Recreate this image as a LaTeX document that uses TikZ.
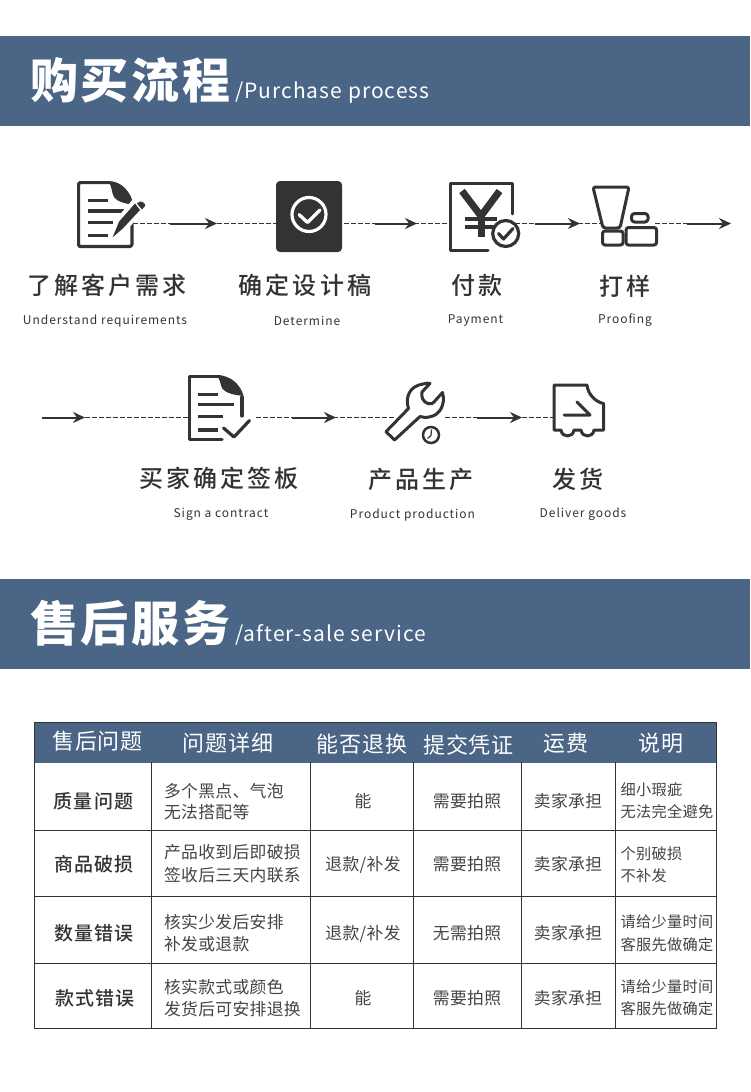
\documentclass[tikz,border=0pt]{standalone}
\usepackage{fontspec}
\usetikzlibrary{arrows.meta}
\setmainfont{Noto Sans CJK SC}
\newfontfamily\fttl[LetterSpace=6]{Noto Sans CJK SC Black}
\newfontfamily\fsub[LetterSpace=5]{Noto Sans CJK SC}
\newfontfamily\fstep[LetterSpace=13]{Noto Sans CJK SC Medium}
\newfontfamily\feng[LetterSpace=8]{Noto Sans CJK SC}
\newfontfamily\fhead[LetterSpace=4]{Noto Sans CJK SC}
\newfontfamily\frow[LetterSpace=6]{Noto Sans CJK SC Medium}
\newfontfamily\fcell[LetterSpace=2]{Noto Sans CJK SC}
\definecolor{band}{HTML}{4A6585}
\definecolor{ink}{HTML}{333333}
\definecolor{cellink}{HTML}{444444}
\tikzset{
  lab/.style={inner sep=0pt,outer sep=0pt,anchor=center,text=ink},
  ttl/.style={lab,anchor=west,text=white,font=\fttl\fontsize{48}{48}\selectfont,text height=41pt,text depth=6pt},
  sub/.style={lab,anchor=west,text=white,font=\fsub\fontsize{21}{21}\selectfont,text height=18pt,text depth=2.5pt},
  stepzh/.style={lab,font=\fstep\fontsize{24}{24}\selectfont,text height=21pt,text depth=3pt},
  stepen/.style={lab,font=\feng\fontsize{12}{12}\selectfont,text height=10.5pt,text depth=1.5pt},
  headc/.style={lab,text=white,font=\fhead\fontsize{22}{22}\selectfont,text height=19pt,text depth=3pt},
  rowc/.style={lab,font=\frow\fontsize{19}{19}\selectfont,text height=16.5pt,text depth=2.5pt},
  cellc/.style={lab,text=cellink,font=\fcell\fontsize{16.8}{17}\selectfont,text height=14.6pt,text depth=2.2pt},
  celll/.style={cellc,anchor=west},
  notel/.style={lab,anchor=west,text=cellink,font=\fcell\fontsize{15.2}{16}\selectfont,text height=13.2pt,text depth=2pt},
  dashlink/.style={draw=ink,line width=1pt,dash pattern=on 4.5pt off 2.5pt},
  solidlink/.style={draw=ink,line width=2pt,-{Stealth[length=12pt,width=11pt,inset=4pt]}},
  ic/.style={draw=ink,line width=3.2pt,line cap=round,line join=round},
  icf/.style={fill=ink,draw=none},
  grid/.style={draw=ink,line width=1.1pt}
}
\begin{document}
\begin{tikzpicture}[x=1pt,y=-1pt]
\useasboundingbox (0,0) rectangle (750,1092);
\fill[white] (0,0) rectangle (750,1092);
% banners
\fill[band] (0,36) rectangle (750,126);
\fill[band] (0,579) rectangle (750,669);
\node[ttl] (t1) at (30,81) {购买流程};
\node[sub] (s1) at (235,91) {/Purchase process};
\node[ttl] (t2) at (30,624) {售后服务};
\node[sub] (s2) at (235,634) {/after-sale service};
% link coordinates
\coordinate (a1) at (133,223.5); \coordinate (b1) at (170,223.5); \coordinate (c1) at (217,223.5); \coordinate (d1) at (276,223.5);
\coordinate (a2) at (344,223.5); \coordinate (b2) at (375,223.5); \coordinate (c2) at (417,223.5); \coordinate (d2) at (449,223.5);
\coordinate (a3) at (515,223.5); \coordinate (b3) at (535,223.5); \coordinate (c3) at (580,223.5); \coordinate (d3) at (602,223.5);
\coordinate (a4) at (655,223.5); \coordinate (b4) at (687,223.5); \coordinate (c4) at (731,223.5);
\coordinate (b5) at (42,417.5); \coordinate (c5) at (85,417.5); \coordinate (d5) at (188,417.5);
\coordinate (a6) at (256,417.5); \coordinate (b6) at (292,417.5); \coordinate (c6) at (336,417.5); \coordinate (d6) at (395,417.5);
\coordinate (a7) at (445,417.5); \coordinate (b7) at (477,417.5); \coordinate (c7) at (522,417.5); \coordinate (d7) at (553,417.5);
\foreach \p/\q in {a1/d1,a2/d2,a3/d3,a4/b4,c5/d5,a6/d6,a7/d7}{\path[dashlink] (\p) -- (\q);}
\foreach \p/\q in {b1/c1,b2/c2,b3/c3,b4/c4,b5/c5,b6/c6,b7/c7}{\path[solidlink] (\p) -- (\q);}
% icon 1: document and pen
\fill[white] (78,182) rectangle (133,247);
\draw[ic] (110,182.6) -- (80,182.6) to[out=180,in=90] (78.6,184) -- (78.6,244) to[out=-90,in=180] (80,246.4) -- (130,246.4) to[out=0,in=-90] (132,244) -- (132,205);
\fill[ink] (108,181) .. controls (122,181) and (131,192) .. (134,206) .. controls (128,203) and (118,203) .. (114,197) .. controls (111,192) and (113,188) .. (108,181) -- cycle;
\foreach \x/\y in {108/200.8,124/211,113/222.5,108/235.5}{\draw[ink,line width=3.2pt] (88,\y) -- (\x,\y);}
\fill[white] (108,241) -- (116,219) -- (134,198) -- (145,210) -- (125,232) -- cycle;
\fill[ink] (112.7,237.3) -- (119,221.7) -- (135,203.5) -- (140,210) -- (123,228.3) -- cycle;
\fill[ink] (137,203.5) -- (140,201.5) .. controls (143,201.5) and (146,204) .. (145,206) -- (142,209.5) -- cycle;
% icon 2: check box
\fill[ink,rounded corners=4pt] (276,181) rectangle (342,252);
\draw[white,line width=3.2pt] (309,214.5) circle (17);
\draw[white,line width=3.4pt,line cap=round,line join=round] (299,214.5) -- (307.5,222.5) -- (320,210);
% icon 3: yen
\draw[ic,line width=3pt] (512,214) -- (512,183) -- (450,183) -- (450,250) -- (488,250);
\draw[ink,line width=7pt] (462,191) -- (481,216) -- (499.5,191);
\draw[ink,line width=7pt] (481,214) -- (481,237);
\draw[ink,line width=4pt] (465,218.5) -- (497,218.5) (465,227) -- (497,227);
\draw[ink,line width=3.2pt,fill=white] (505.7,233.5) circle (13);
\draw[ink,line width=3.2pt,line cap=round,line join=round] (498.5,233.5) -- (503.5,239) -- (513,228.5);
% icon 4: sample bottles
\draw[ic,line width=3pt,rounded corners=2.5pt] (593,187) -- (629,187) -- (620,228) -- (603,228) -- cycle;
\draw[ic,line width=3pt,rounded corners=2.5pt] (602.5,231) rectangle (623,245);
\draw[ic,line width=3pt,rounded corners=2.5pt] (626,227.5) rectangle (656.5,245);
\draw[ic,line width=3pt,rounded corners=3pt] (631.5,213.5) rectangle (648,222);
% icon 5: document with check
\draw[ic] (220,376.5) -- (189.5,376.5) -- (189.5,439.5) -- (222,439.5);
\draw[ic] (242,397) -- (242,416);
\fill[ink] (216,375) .. controls (232,375) and (241,386) .. (243.5,396) .. controls (236,395) and (226,394) .. (222,388) .. controls (220,384) and (221,380) .. (216,375) -- cycle;
\foreach \x/\y in {218/394.3,234/404.5,223/416.5,218/430}{\draw[ink,line width=3.2pt] (198,\y) -- (\x,\y);}
\draw[ic] (223.5,428) -- (234,437) -- (249.5,420.5);
% icon 6: wrench and clock
\draw[ic,line width=3pt] (386,431.7) -- (408.5,408.5) .. controls (405,398) and (409,386) .. (423,384) .. controls (427,383) and (429,383) .. (430,383.5) -- (422,392) .. controls (421,397) and (423,402) .. (428,403.5) .. controls (431,404) and (433,404) .. (434,402) -- (442.5,392.5) .. controls (446,405) and (439,415) .. (431,416.5) .. controls (426,418) and (423,417.5) .. (420,416.5) -- (394.5,440) -- cycle;
\draw[ink,line width=2.5pt] (431,435) circle (8);
\draw[ink,line width=1.2pt] (431.5,429.5) -- (431,435.5) -- (427.5,438.5);
% icon 7: delivery
\draw[ic,line width=3pt] (554,385) -- (587,385) .. controls (588,395) and (596,402) .. (603.5,403.5) -- (603.5,430) -- (594,430) .. controls (593,438) and (582,438) .. (581,430) -- (574,430) .. controls (573,438) and (562,438) .. (561,430) -- (554,430) -- cycle;
\draw[ic,line width=3pt] (564,415) -- (590,415) -- (577,402);
% step labels
\node[stepzh] (z1) at (107,285) {了解客户需求};
\node[stepen] (e1) at (105,319.5) {Understand requirements};
\node[stepzh] (z2) at (305,285) {确定设计稿};
\node[stepen] (e2) at (307,320.5) {Determine};
\node[stepzh] (z3) at (477,285) {付款};
\node[stepen] (e3) at (475.5,318.5) {Payment};
\node[stepzh] (z4) at (625,286) {打样};
\node[stepen] (e4) at (625,318.5) {Proofing};
\node[stepzh] (z5) at (219,478) {买家确定签板};
\node[stepen] (e5) at (221,512.7) {Sign a contract};
\node[stepzh] (z6) at (421,479) {产品生产};
\node[stepen] (e6) at (412.5,513.5) {Product production};
\node[stepzh] (z7) at (578,479) {发货};
\node[stepen] (e7) at (583,512.5) {Deliver goods};
% table
\fill[band] (34.5,722.5) rectangle (716.5,762.5);
\draw[grid] (34.5,722.5) rectangle (716.5,1028.5);
\foreach \y in {830.5,896.5,963.5}{\draw[grid] (34.5,\y) -- (716.5,\y);}
\foreach \x in {151.5,310.5,413.5,521.5,615.5}{\draw[grid] (\x,762) -- (\x,1028.5);}
\node[headc] (h1) at (97.5,741) {售后问题};
\node[headc] (h2) at (228,743) {问题详细};
\node[headc] (h3) at (362,744.5) {能否退换};
\node[headc] (h4) at (468.5,745) {提交凭证};
\node[headc] (h5) at (566,743) {运费};
\node[headc] (h6) at (661,743) {说明};
\node[rowc] (r1) at (93.5,801) {质量问题};
\node[rowc] (r2) at (94,864.3) {商品破损};
\node[rowc] (r3) at (94,933.3) {数量错误};
\node[rowc] (r4) at (95,998.3) {款式错误};
\node[celll] (c21a) at (164,791) {多个黑点、气泡};
\node[celll] (c21b) at (164,812.7) {无法搭配等};
\node[celll] (c22a) at (164,852.3) {产品收到后即破损};
\node[celll] (c22b) at (164,875) {签收后三天内联系};
\node[celll] (c23a) at (164,922) {核实少发后安排};
\node[celll] (c23b) at (164,944.3) {补发或退款};
\node[celll] (c24a) at (164,987.7) {核实款式或颜色};
\node[celll] (c24b) at (164,1009.3) {发货后可安排退换};
\node[cellc] (c31) at (363,801) {能};
\node[cellc] (c32) at (363,864) {退款/补发};
\node[cellc] (c33) at (363,933) {退款/补发};
\node[cellc] (c34) at (363,998) {能};
\node[cellc] (c41) at (467,801) {需要拍照};
\node[cellc] (c42) at (467,864) {需要拍照};
\node[cellc] (c43) at (467,933) {无需拍照};
\node[cellc] (c44) at (467,998) {需要拍照};
\node[cellc] (c51) at (568,801) {卖家承担};
\node[cellc] (c52) at (568,864) {卖家承担};
\node[cellc] (c53) at (568,933) {卖家承担};
\node[cellc] (c54) at (568,998) {卖家承担};
\node[notel] (n1a) at (620.7,790) {细小瑕疵};
\node[notel] (n1b) at (620.7,812) {无法完全避免};
\node[notel] (n2a) at (620.7,854) {个别破损};
\node[notel] (n2b) at (620.7,876) {不补发};
\node[notel] (n3a) at (620.7,922) {请给少量时间};
\node[notel] (n3b) at (620.7,945) {客服先做确定};
\node[notel] (n4a) at (620.7,986.7) {请给少量时间};
\node[notel] (n4b) at (620.7,1009) {客服先做确定};
\end{tikzpicture}
\end{document}
